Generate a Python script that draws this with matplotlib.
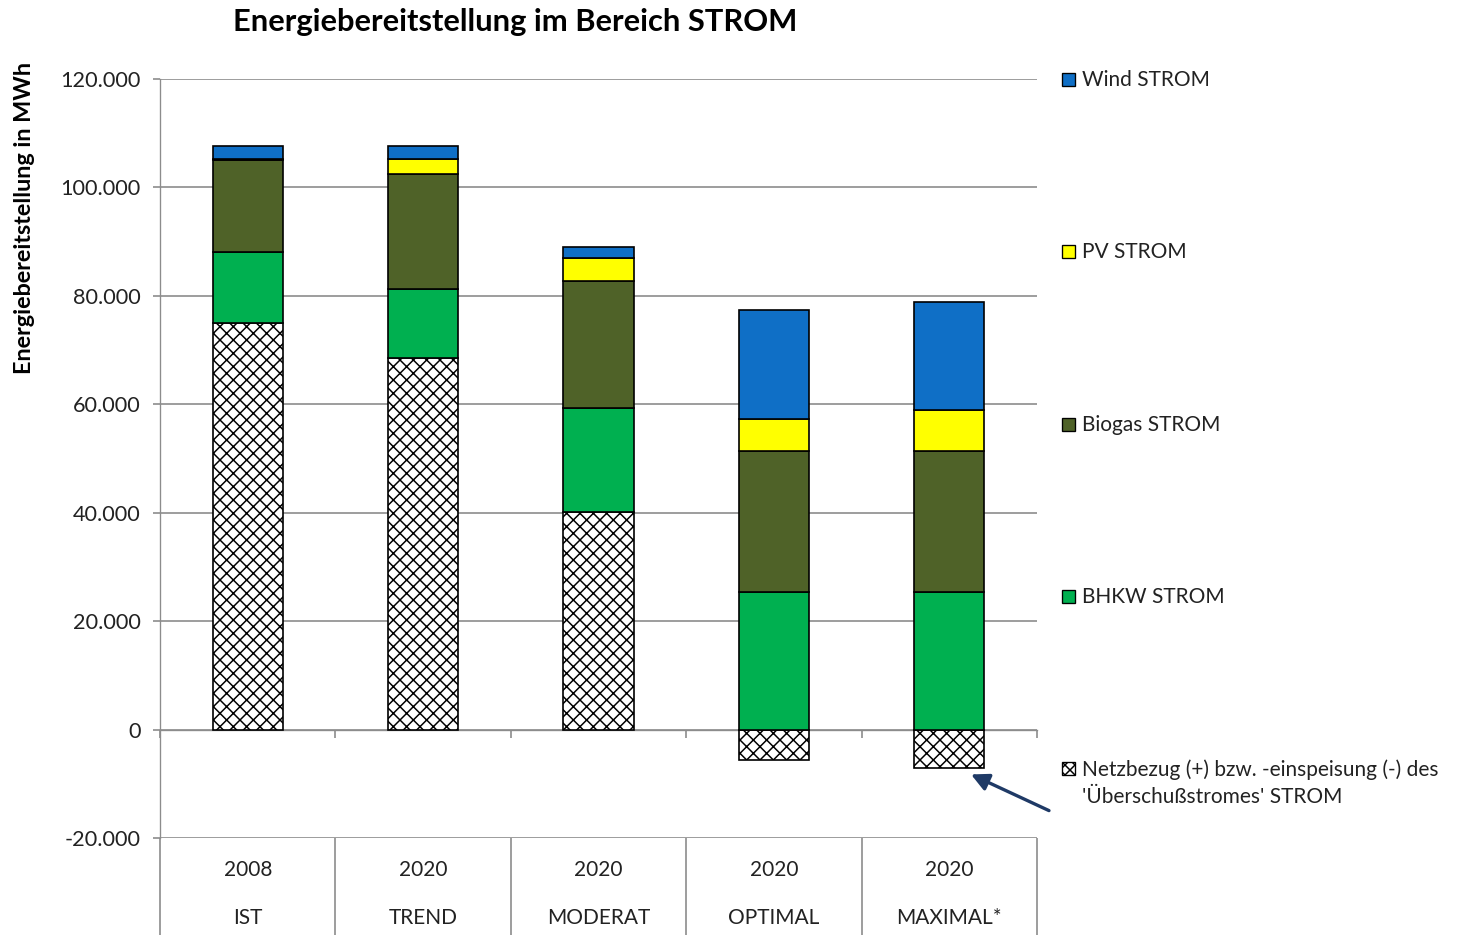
import numpy as np
import matplotlib
matplotlib.use("Agg")
import matplotlib.pyplot as plt
import matplotlib.transforms as mtransforms
from matplotlib.patches import Rectangle
from matplotlib.ticker import FuncFormatter

plt.rcParams['font.family'] = ['Lato', 'DejaVu Sans']
plt.rcParams['hatch.linewidth'] = 0.9

# Daten (MWh)
jahre = ['2008', '2020', '2020', '2020', '2020']
szenarien = ['IST', 'TREND', 'MODERAT', 'OPTIMAL', 'MAXIMAL*']
netz = np.array([75000, 68600, 40100, -5600, -7100])
bhkw = np.array([13000, 12700, 19200, 25300, 25300])
biogas = np.array([17000, 21200, 23400, 26100, 26100])
pv = np.array([300, 2700, 4200, 5900, 7600])
wind = np.array([2300, 2400, 2200, 20100, 19900])

serien = [
    ("BHKW STROM", bhkw, '#00B050'),
    ("Biogas STROM", biogas, '#4F6228'),
    ("PV STROM", pv, '#FFFF00'),
    ("Wind STROM", wind, '#0F6FC6'),
]

W, H, DPI = 1470, 935, 120
fig = plt.figure(figsize=(W / DPI, H / DPI), dpi=DPI)
ax = fig.add_axes([160 / W, 1 - 838 / H, (1037 - 160) / W, (838 - 79) / H])

x = np.arange(len(jahre))
breite = 0.4
gitter = '#8C8C8C'
schrift = '#222222'

# Netzbezug / Einspeisung (schraffiert)
ax.bar(x, netz, breite, color='white', edgecolor='black', hatch='xxx',
       linewidth=1, zorder=3)

unten = np.clip(netz, 0, None).astype(float)
for name, werte, farbe in serien:
    ax.bar(x, werte, breite, bottom=unten, color=farbe, edgecolor='black',
           linewidth=1, zorder=3)
    unten = unten + werte

ax.set_xlim(-0.5, len(jahre) - 0.5)
ax.set_ylim(-20000, 120000)
ax.set_yticks(np.arange(-20000, 120001, 20000))
ax.yaxis.set_major_formatter(FuncFormatter(lambda v, p: f"{int(v):,}".replace(',', '.')))
ax.grid(axis='y', color=gitter, linewidth=1, zorder=0)
ax.set_axisbelow(True)
ax.tick_params(axis='y', length=4.5, width=1, color=gitter, pad=7,
               labelsize=13, labelcolor=schrift)

# Kategorieachse an der Nulllinie
for s in ['top', 'right']:
    ax.spines[s].set_visible(False)
ax.spines['left'].set_color(gitter)
ax.spines['bottom'].set_position(('data', 0))
ax.spines['bottom'].set_color(gitter)
ax.set_xticks(np.arange(len(jahre) + 1) - 0.5)
ax.set_xticklabels([])
ax.tick_params(axis='x', length=4.5, width=1, color=gitter, direction='out')

# Tabelle unter dem Diagramm
trans = mtransforms.blended_transform_factory(ax.transData, ax.transAxes)
unten_rand = -(H - 838) / (838 - 79)
ax.vlines(np.arange(len(jahre) + 1) - 0.5, unten_rand, 0, transform=trans,
          color=gitter, linewidth=1, clip_on=False)
for i in x:
    ax.text(i, -0.042, jahre[i], transform=trans, ha='center', va='center',
            fontsize=12.5, color=schrift)
    ax.text(i, -0.105, szenarien[i], transform=trans, ha='center', va='center',
            fontsize=12.5, color=schrift)

# Titel und Achsentitel
fig.text(515 / W, 1 - 22 / H, "Energiebereitstellung im Bereich STROM",
         ha='center', va='center', fontsize=18.5, fontweight='bold')
fig.text(25 / W, 1 - 218 / H, "Energiebereitstellung in MWh", rotation=90,
         ha='center', va='center', fontsize=14, fontweight='bold')

# Legende
legende = [
    ("Wind STROM", '#0F6FC6', None, 79),
    ("PV STROM", '#FFFF00', None, 251),
    ("Biogas STROM", '#4F6228', None, 424),
    ("BHKW STROM", '#00B050', None, 596),
    ("Netzbezug (+) bzw. -einspeisung (-) des\n'Überschußstromes' STROM", 'white', 'xxxx', 768),
]
for text, farbe, hatch, yp in legende:
    fig.add_artist(Rectangle((1062 / W, 1 - (yp + 7) / H), 13 / W, 13 / H,
                             transform=fig.transFigure, facecolor=farbe,
                             edgecolor='black', linewidth=0.8, hatch=hatch))
    fig.text(1082 / W, 1 - (yp - 9) / H, text, ha='left', va='top',
             fontsize=12.5, color=schrift, linespacing=1.45)

# Pfeil
fig.add_artist(matplotlib.patches.FancyArrowPatch(
    (1052 / W, 1 - 812 / H), (968 / W, 1 - 773 / H),
    transform=fig.transFigure, arrowstyle='-|>', mutation_scale=22,
    color='#1F3A66', linewidth=2))

fig.savefig("out.png", dpi=DPI)
